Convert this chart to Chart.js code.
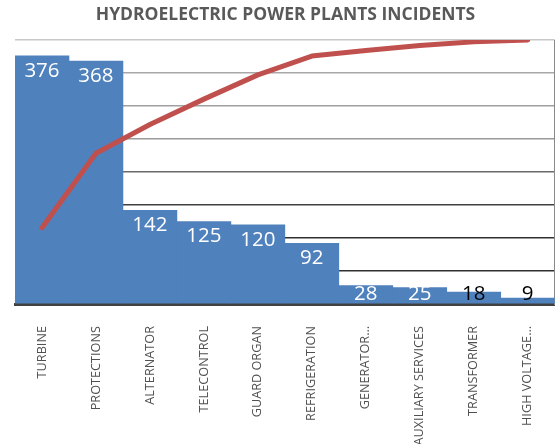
<!DOCTYPE html>
<html>
<head>
<meta charset="utf-8">
<script src="https://cdn.jsdelivr.net/npm/chart.js@4.4.1/dist/chart.umd.min.js"></script>
<style>
  html, body { margin: 0; padding: 0; background: #fff; }
  #wrap { width: 557px; height: 444px; position: relative; }
</style>
</head>
<body>
<div id="wrap"><canvas id="myChart"></canvas></div>
<script>
// Chart data
const categories = ['TURBINE', 'PROTECTIONS', 'ALTERNATOR', 'TELECONTROL', 'GUARD ORGAN',
    'REFRIGERATION', 'GENERATOR…', 'AUXILIARY SERVICES', 'TRANSFORMER', 'HIGH VOLTAGE…'];
const incidents = [376, 368, 142, 125, 120, 92, 28, 25, 18, 9];
const cumulativePct = [28.9, 57.1, 68.0, 77.6, 86.8, 93.9, 96.0, 97.9, 99.3, 100];
const yTicks = [0, 50, 100, 150, 200, 250, 300, 350, 400];

// grid line shades, bottom to top
const gridShades = ['#404040', '#303030', '#303030', '#404040', '#6a6a6a', '#9a9a9a', '#a0a0a0', '#a8a8a8', '#c8c8c8'];

// Draw the value on top of each bar
const barLabels = {
    id: 'barLabels',
    afterDatasetsDraw(chart) {
        const meta = chart.getDatasetMeta(0);
        const ctx = chart.ctx;
        ctx.save();
        ctx.font = '20.5px "Open Sans"';
        ctx.textAlign = 'center';
        ctx.textBaseline = 'middle';
        meta.data.forEach((bar, i) => {
            const h = bar.base - bar.y;
            const y = Math.min(bar.y + 15, bar.base - 9);
            ctx.fillStyle = h < 14 ? '#000000' : '#ffffff';
            ctx.fillText(String(incidents[i]), bar.x, y);
        });
        ctx.restore();
    }
};

document.addEventListener("DOMContentLoaded", function () {
    const ctx = document.getElementById('myChart').getContext('2d');
    new Chart(ctx, {
        data: {
            labels: categories,
            datasets: [{
                type: 'bar',
                label: 'Incidents',
                data: incidents,
                backgroundColor: '#4f81bd',
                borderWidth: 0,
                barPercentage: 1,
                categoryPercentage: 1,
                yAxisID: 'y',
                order: 2
            }, {
                type: 'line',
                label: 'Cumulative %',
                data: cumulativePct,
                borderColor: '#c0504d',
                borderWidth: 5,
                borderCapStyle: 'round',
                borderJoinStyle: 'round',
                pointRadius: 0,
                tension: 0,
                yAxisID: 'y1',
                order: 1
            }]
        },
        options: {
            responsive: true,
            maintainAspectRatio: false,
            animation: false,
            layout: { padding: { left: 15, right: 1, top: 0, bottom: 0 } },
            plugins: {
                legend: { display: false },
                tooltip: { enabled: false },
                title: {
                    display: true,
                    text: 'HYDROELECTRIC POWER PLANTS INCIDENTS',
                    color: '#595959',
                    font: { family: '"Open Sans"', size: 17.5, weight: 'bold' },
                    padding: { top: 5, bottom: 14 }
                }
            },
            scales: {
                x: {
                    grid: { display: false },
                    border: { display: true, color: '#404040', width: 3 },
                    ticks: {
                        color: '#505050',
                        font: { family: '"Open Sans"', size: 12.7 },
                        minRotation: 90,
                        maxRotation: 90,
                        autoSkip: false,
                        padding: 14
                    },
                    afterFit(scale) { scale.height = 140; }
                },
                y: {
                    min: 0,
                    max: 400,
                    afterBuildTicks(scale) { scale.ticks = yTicks.map(v => ({ value: v })); },
                    ticks: { display: false },
                    border: { display: false },
                    grid: {
                        drawTicks: false,
                        lineWidth: 1.5,
                        color: c => gridShades[c.index] || '#a0a0a0'
                    }
                },
                y1: {
                    position: 'right',
                    min: 0,
                    max: 100,
                    ticks: { display: false },
                    grid: { display: false, drawTicks: false },
                    border: { display: true, color: '#8a8a8a', width: 1 }
                }
            }
        },
        plugins: [barLabels]
    });
});
</script>
</body>
</html>
